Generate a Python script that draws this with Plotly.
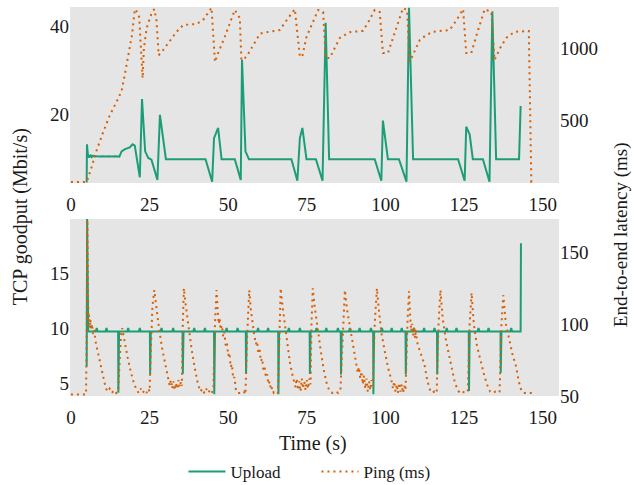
import plotly.graph_objects as go

# ---------------- data ----------------
# Top panel: upload goodput (Mbit/s)
top_up_t = [5.0, 5.1, 5.4, 5.8, 6.2, 6.6, 7.0, 7.5, 8.0, 9.0, 10.0, 11.0, 12.0, 13.0, 14.0, 15.4,
            16.1, 17.2, 18.7, 19.6, 20.3, 21.9, 22.6, 23.6, 24.6, 25.6, 27.5, 28.3, 30.2,
            35.0, 40.0, 42.8, 44.9, 45.5, 46.8, 47.9, 52.1, 54.0, 54.4, 55.5, 56.6,
            62.0, 70.1, 72.0, 72.8, 73.6, 74.9, 77.9, 80.0, 81.0, 82.1,
            90.0, 96.6, 98.7, 99.2, 100.8, 104.3, 106.7, 107.5, 108.8,
            115.0, 123.1, 125.2, 125.7, 126.8, 127.8, 131.0, 133.1, 134.0, 135.2, 142.5, 143.0]
top_up_v = [4.6, 13.3, 10.9, 10.3, 10.9, 10.4, 10.7, 10.5, 10.6, 10.5, 10.6, 10.5, 10.6, 10.5, 10.6, 10.5,
            11.7, 12.2, 12.6, 13.3, 13.0, 5.8, 23.6, 11.7, 10.2, 9.8, 5.2, 20.0, 9.9,
            9.9, 9.9, 9.9, 4.8, 14.7, 17.0, 9.9, 9.9, 5.2, 32.5, 11.7, 9.9,
            9.9, 9.9, 5.0, 14.7, 17.0, 9.9, 9.9, 5.0, 40.9, 9.9,
            9.9, 9.9, 5.0, 18.7, 9.9, 9.9, 4.8, 44.3, 9.9,
            9.9, 9.9, 5.0, 17.3, 15.5, 9.9, 9.9, 4.8, 43.5, 9.9, 9.9, 22.0]

# Top panel: ping (ms)
top_ping_t = [0, 2.5, 5.0, 6.6, 8.2, 10.3, 12.4, 14.5, 16.1, 17.5, 19.4, 20.3, 20.6, 21.7, 22.3, 22.8,
              23.2, 24.1, 25.6, 26.5, 27.2, 27.9, 29.3, 31.5, 33.6, 35.7, 37.8, 39.9, 42.0, 44.7,
              45.8, 46.8, 48.9, 50.5, 52.1, 53.7, 54.2, 55.8, 58.0, 60.1, 62.2, 64.3, 66.4, 68.8, 71.2,
              72.8, 73.6, 74.9, 76.7, 78.6, 80.2, 81.0, 82.3, 85.5, 88.7, 90.8, 92.9, 94.8, 96.6,
              98.2, 99.2, 100.8, 103.2, 105.6, 106.9, 107.7, 110.9, 113.0, 115.1, 117.8, 120.4, 122.5,
              124.7, 125.7, 127.3, 129.4, 131.6, 133.7, 134.7, 136.5, 138.4, 141.1, 143.2, 145.3,
              145.6, 146.4, 147.0]
top_ping_v = [70, 70, 70, 176, 292, 419, 535, 627, 700, 860, 1090, 1265, 1270, 1215, 1000, 790,
              1000, 1140, 1240, 1270, 1190, 950, 986, 1050, 1113, 1160, 1165, 1167, 1194, 1280,
              903, 965, 1077, 1170, 1264, 1208, 917, 938, 1020, 1100, 1110, 1115, 1125, 1200, 1270,
              938, 945, 1077, 1170, 1264, 1250, 930, 930, 1070, 1110, 1115, 1120, 1190, 1264,
              1250, 965, 965, 1120, 1278, 1264, 903, 1055, 1090, 1113, 1120, 1125, 1190,
              1270, 965, 965, 1120, 1270, 1250, 917, 1000, 1070, 1113, 1116, 1118,
              1118, 70, 70]

# Bottom panel: upload goodput (Mbit/s)
bot_base = 9.73
bot_tick_v = 10.05
bot_start_t = [5.0, 5.15, 5.5]
bot_start_v = [6.6, 19.9, 9.73]
bot_tick_t = [8.2, 11.3, 18.2, 21.9, 28.8, 32.5, 39.2, 42.6, 49.5, 53.0, 59.5, 62.7, 69.3, 72.8,
              78.1, 81.2, 84.9, 88.7, 91.8, 95.4, 98.9, 102.0, 105.2, 109.1, 112.3, 115.6,
              119.5, 122.6, 129.6, 132.8, 140.0]
bot_dip_t = [15.0, 25.1, 35.5, 45.5, 55.6, 65.9, 75.9, 85.8, 96.1, 106.4, 116.4, 126.5, 136.6]
bot_dip_v = [4.2, 5.9, 5.9, 4.05, 5.9, 4.05, 5.9, 5.85, 4.05, 5.85, 5.85, 4.35, 6.0]
bot_end_t = [143.0, 143.1]
bot_end_v = [9.73, 17.7]

# Bottom panel: ping (ms)
bot_ping_t = [0, 2, 4.8, 5.0, 5.2, 5.4, 5.6, 5.8, 6.0, 6.2, 6.4, 6.7, 7.0, 7.4, 7.8, 8.4, 9.0, 9.6, 10.3,
              11.0, 11.6, 12.3, 13.0, 13.7, 14.4, 15.0,
              15.4, 15.9, 16.3, 17.0, 18.0, 19.0, 20.0, 20.9, 21.6, 22.2, 22.8, 23.4, 24.0, 24.6, 25.0,
              25.4, 25.9, 26.5, 27.1, 28.0, 29.0, 30.0, 30.8, 31.4, 31.8, 32.2, 32.6, 33.0, 33.4, 33.8,
              34.2, 34.6, 35.0, 35.3,
              35.5, 35.9, 36.5, 37.4, 38.4, 39.4, 40.4, 41.2, 41.8, 42.4, 43.0, 43.6, 44.2, 44.8, 45.3,
              45.7, 46.3, 46.7, 47.0, 47.3, 47.6, 48.0, 48.4, 48.8, 49.2, 49.6, 50.0, 50.4, 50.8, 51.2,
              51.6, 52.0, 52.4, 53.0, 54.0, 55.0, 55.5,
              56.0, 56.7, 57.2, 57.8, 58.3, 58.8, 59.2, 59.6, 60.0, 60.4, 60.8, 61.2, 61.6, 62.0, 62.4,
              62.8, 63.2, 63.6, 64.0, 64.5, 65.2, 65.8,
              66.2, 66.7, 67.3, 68.2, 69.0, 69.7, 70.5, 71.0, 71.4, 71.8, 72.2, 72.6, 73.0, 73.4, 73.8,
              74.2, 74.6, 75.0, 75.4, 75.8, 76.2,
              76.5, 76.9, 77.5, 78.4, 79.4, 80.4, 81.4, 82.3, 83.2, 84.0, 85.0, 85.7,
              86.4, 87.1, 87.8, 88.7, 89.6, 90.4, 90.8, 91.2, 91.6, 92.0, 92.4, 92.8, 93.2, 93.6, 94.0,
              94.4, 94.8, 95.2, 95.6, 96.0,
              96.6, 97.3, 97.9, 98.7, 99.7, 100.8, 101.9, 102.4, 102.8, 103.2, 103.6, 104.0, 104.4,
              104.8, 105.2, 105.6, 106.0, 106.4,
              107.0, 107.5, 107.9, 108.2, 108.5, 108.8, 109.1, 109.4, 109.7, 110.0, 110.5, 111.4, 112.4,
              113.2, 114.0, 114.8, 115.6, 116.3,
              116.9, 117.5, 118.2, 119.3, 120.6, 122.0, 123.0, 123.7, 124.5, 125.4, 126.2,
              126.8, 127.4, 128.1, 129.1, 130.1, 131.2, 132.3, 133.3, 134.2, 135.0, 135.8, 136.3,
              136.9, 137.5, 138.3, 139.5, 140.5, 141.6, 142.4, 143.2, 144.0, 145.0, 146.0, 147.5]
bot_ping_v = [51, 51, 51, 90, 172, 125, 102, 106, 97, 103, 96, 100, 93, 96, 88, 82, 75, 68, 62,
              56, 53, 55, 52, 54, 52, 53,
              70, 92, 97, 88, 77, 67, 59, 54, 52, 55, 52, 54, 52, 55, 53,
              80, 112, 123.5, 112, 97, 83, 71, 62, 57, 61, 55, 60, 54, 59, 55,
              61, 56, 60, 57,
              95, 124.8, 113, 97, 82, 69, 58, 53, 55, 52, 55, 52, 54, 52, 55,
              95, 123.5, 108, 100, 104, 96, 99, 91, 94, 85, 87, 78, 80, 70, 72,
              62, 63, 55, 52, 52, 53, 51,
              90, 123.5, 110, 98, 92, 86, 88, 80, 82, 74, 76, 68, 70, 63, 65,
              58, 60, 54, 56, 52, 53, 52,
              95, 124.8, 112, 96, 84, 72, 64, 60, 56, 62, 54, 60, 53, 62, 55,
              60, 54, 61, 55, 62, 58,
              100, 124.8, 112, 96, 82, 68, 58, 53, 52, 53, 52, 54,
              95, 123.5, 110, 98, 86, 76, 70, 66, 70, 62, 67, 58, 64, 55, 62,
              53, 60, 54, 61, 57,
              100, 124.8, 110, 94, 82, 70, 61, 55, 60, 53, 58, 52, 59,
              53, 58, 52, 57, 54,
              100, 122.7, 104, 95, 100, 92, 98, 90, 96, 88, 84, 78, 72,
              62, 55, 52, 53, 52,
              100, 123.5, 104, 88, 74, 60, 54, 52, 53, 52, 53,
              100, 121.6, 100, 85, 75, 66, 58, 53, 52, 53, 52, 53,
              100, 120, 100, 88, 78, 70, 60, 54, 52, 52, 52, 52]

x_ticks = [0, 25, 50, 75, 100, 125, 150]

# ---------------- build bottom upload polyline from read events ----------------
events = []
for t in bot_tick_t:
    events += [(t - 0.3, bot_base), (t, bot_tick_v), (t + 0.3, bot_base)]
for t, v in zip(bot_dip_t, bot_dip_v):
    events += [(t, bot_base), (t + 0.08, v), (t + 0.3, bot_base)]
events.sort()
bu_t = bot_start_t + [e[0] for e in events] + bot_end_t
bu_v = bot_start_v + [e[1] for e in events] + bot_end_v

# ---------------- figure ----------------
GREEN = "#1b9e77"
ORANGE = "#d95f02"
FONT = "Liberation Serif"
TXT = "#1a1a1a"

fig = go.Figure()
fig.add_trace(go.Scatter(x=top_up_t, y=top_up_v, mode="lines", name="Upload",
                         line=dict(color=GREEN, width=2), xaxis="x", yaxis="y",
                         legendgroup="up"))
fig.add_trace(go.Scatter(x=top_ping_t, y=top_ping_v, mode="lines", name="Ping (ms)",
                         line=dict(color=ORANGE, width=2, dash="2px,4px"), xaxis="x", yaxis="y2",
                         legendgroup="ping"))
fig.add_trace(go.Scatter(x=bu_t, y=bu_v, mode="lines", name="Upload", showlegend=False,
                         line=dict(color=GREEN, width=2), xaxis="x2", yaxis="y3",
                         legendgroup="up"))
fig.add_trace(go.Scatter(x=bot_ping_t, y=bot_ping_v, mode="lines", name="Ping (ms)", showlegend=False,
                         line=dict(color=ORANGE, width=2, dash="2px,4px"), xaxis="x2", yaxis="y4",
                         legendgroup="ping"))

ax_common = dict(showgrid=False, zeroline=False, showline=False, ticks="",
                 tickfont=dict(family=FONT, size=19, color=TXT))
x_common = dict(ax_common, ticklabelstandoff=8)
top_dom = [0.5476, 1.0]
bot_dom = [0.0, 0.455]

fig.update_layout(
    width=634, height=485,
    margin=dict(l=70, r=75, t=7, b=89),
    paper_bgcolor="white",
    plot_bgcolor="#e5e5e5",
    font=dict(family=FONT, color=TXT),
    xaxis=dict(domain=[0, 1], anchor="y", range=[-0.3, 155.2], tickvals=x_ticks, **x_common),
    yaxis=dict(domain=top_dom, anchor="x", range=[4.5, 44.5], tickvals=[20, 40], **ax_common),
    yaxis2=dict(overlaying="y", side="right", anchor="x", range=[63, 1285],
                tickvals=[500, 1000], **ax_common),
    xaxis2=dict(domain=[0, 1], anchor="y3", range=[-0.3, 155.2], tickvals=x_ticks, **x_common),
    yaxis3=dict(domain=bot_dom, anchor="x2", range=[3.9, 19.9], tickvals=[5, 10, 15], **ax_common),
    yaxis4=dict(overlaying="y3", side="right", anchor="x2", range=[49.9, 172.9],
                tickvals=[50, 100, 150], **ax_common),
    legend=dict(orientation="h", x=0.232, xanchor="left",
                yref="container", y=0.027, yanchor="middle",
                font=dict(family=FONT, size=17, color=TXT), bgcolor="rgba(0,0,0,0)",
                itemwidth=37, entrywidth=81, entrywidthmode="pixels", tracegroupgap=0),
    showlegend=True,
)

fig.add_annotation(text="Time (s)", xref="paper", yref="paper", x=0.497, y=-0.123,
                   showarrow=False, font=dict(family=FONT, size=20, color=TXT),
                   xanchor="center", yanchor="middle")
fig.add_annotation(text="TCP goodput (Mbit/s)", xref="paper", yref="paper", x=-0.102, y=0.46,
                   showarrow=False, textangle=-90, font=dict(family=FONT, size=20, color=TXT),
                   xanchor="center", yanchor="middle")
fig.add_annotation(text="End-to-end latency (ms)", xref="paper", yref="paper", x=1.126, y=0.415,
                   showarrow=False, textangle=-90, font=dict(family=FONT, size=19, color=TXT),
                   xanchor="center", yanchor="middle")

fig.write_html("out.html")
